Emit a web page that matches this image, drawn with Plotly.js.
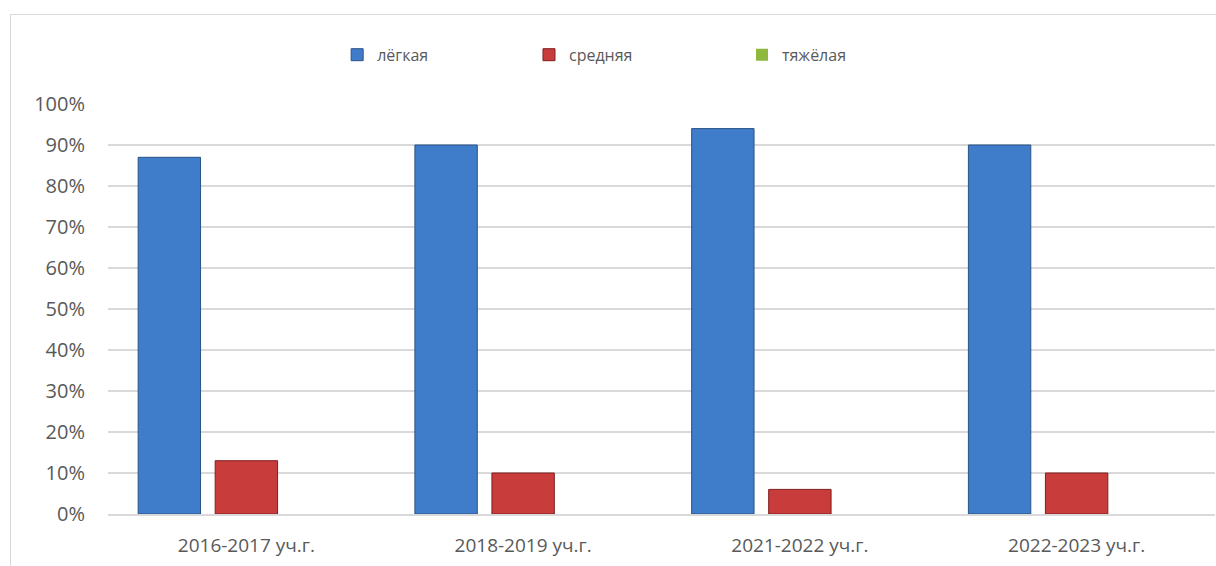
<!DOCTYPE html>
<html>
<head>
<meta charset="utf-8">
<script src="https://cdn.plot.ly/plotly-3.0.1.min.js"></script>
<style>
  html, body { margin: 0; padding: 0; background: #ffffff; }
  #wrap { position: relative; width: 1216px; height: 566px; overflow: hidden; }
  #chart { position: absolute; left: 0; top: 0; width: 1216px; height: 566px; }
  #frame { position: absolute; left: 10px; top: 14px; width: 1300px; height: 700px;
           border-left: 1px solid #d9d9d9; border-top: 1px solid #d9d9d9; pointer-events: none; }
</style>
</head>
<body>
<div id="wrap">
  <div id="chart"></div>
  <div id="frame"></div>
</div>
<script>
// ---- data ----
const categories = ["2016-2017 уч.г.", "2018-2019 уч.г.", "2021-2022 уч.г.", "2022-2023 уч.г."];
const seriesNames = ["лёгкая", "средняя", "тяжёлая"];
const light  = [0.87, 0.90, 0.94, 0.90];
const medium = [0.13, 0.10, 0.06, 0.10];
const heavy  = [0.00, 0.00, 0.00, 0.00];
const yTickVals = [0, 0.1, 0.2, 0.3, 0.4, 0.5, 0.6, 0.7, 0.8, 0.9, 1.0];
const yTickText = ["0%", "10%", "20%", "30%", "40%", "50%", "60%", "70%", "80%", "90%", "100%"];

// ---- styles ----
const fills   = ["#3f7cc9", "#c83c3c", "#8fb83e"];
const borders = ["#2a5286", "#7e1f1f", "#5b7a22"];
const borderW = [1, 1, 0];
const legendIds = ["legend", "legend2", "legend3"];
const legendX = [0.2070, 0.3803, 0.5727];
const textColor = "#595959";
const fontFam = "'Open Sans', sans-serif";

const values = [light, medium, heavy];
const traces = values.map((v, i) => ({
  type: "bar",
  name: seriesNames[i],
  x: categories,
  y: v,
  legend: legendIds[i],
  marker: { color: fills[i], line: { color: borders[i], width: borderW[i] } },
  hoverinfo: "skip"
}));

const layout = {
  width: 1216,
  height: 566,
  margin: { l: 108, r: 1, t: 104, b: 52 },
  paper_bgcolor: "rgba(0,0,0,0)",
  plot_bgcolor: "#ffffff",
  barmode: "group",
  bargap: 0.165,
  bargroupgap: 0.19,
  font: { family: fontFam, size: 16, color: textColor },
  showlegend: true,
  xaxis: {
    type: "category",
    showgrid: false,
    showline: true,
    linecolor: "#d9d9d9",
    linewidth: 1.5,
    ticks: "outside",
    ticklen: 14,
    tickcolor: "rgba(0,0,0,0)",
    tickfont: { family: fontFam, size: 19, color: textColor },
    fixedrange: true
  },
  yaxis: {
    range: [0, 1],
    tickvals: yTickVals,
    ticktext: yTickText,
    showgrid: true,
    gridcolor: "#d9d9d9",
    gridwidth: 1.5,
    zeroline: false,
    showline: false,
    ticks: "outside",
    ticklen: 18,
    tickcolor: "rgba(0,0,0,0)",
    tickfont: { family: fontFam, size: 20, color: textColor },
    fixedrange: true
  }
};
legendIds.forEach((id, i) => {
  layout[id] = {
    orientation: "h",
    x: legendX[i], xanchor: "left",
    y: 1.12, yanchor: "middle",
    itemwidth: 30,
    font: { family: fontFam, size: 16, color: textColor },
    bgcolor: "rgba(0,0,0,0)"
  };
});

Plotly.newPlot("chart", traces, layout, { displayModeBar: false, staticPlot: true });
</script>
</body>
</html>
